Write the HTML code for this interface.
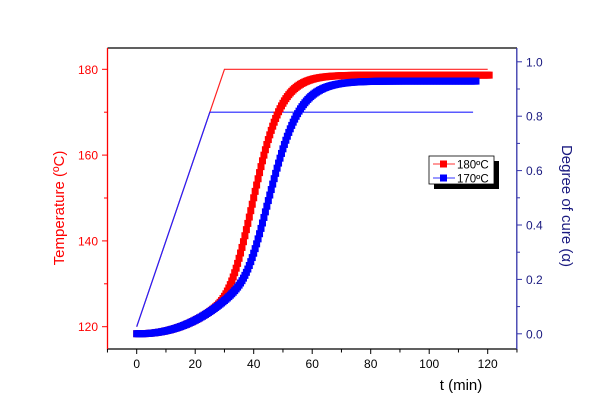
<!DOCTYPE html>
<html><head><meta charset="utf-8"><style>
html,body{margin:0;padding:0;background:#fff;}
svg{display:block;font-family:"Liberation Sans",Arial,sans-serif;}
</style></head><body>
<svg id="s" width="600" height="418" viewBox="0 0 600 418" xmlns="http://www.w3.org/2000/svg">
<rect width="600" height="418" fill="#fff"/>
<line x1="107.5" y1="48" x2="517" y2="48" stroke="#000" stroke-width="1.3"/>
<line x1="107.5" y1="349" x2="517" y2="349" stroke="#000" stroke-width="1.3"/>
<line x1="107.5" y1="48" x2="107.5" y2="349.5" stroke="#f00" stroke-width="1.3"/>
<line x1="516.8" y1="48" x2="516.8" y2="349.5" stroke="#3333aa" stroke-width="1.3"/>
<g id="ticks"></g>
<g id="data"></g>
<rect x="434" y="161" width="65" height="28" fill="#000"/>
<rect x="429" y="156" width="65" height="28" fill="#fff" stroke="#000" stroke-width="0.8"/>
<line x1="433" y1="164" x2="455" y2="164" stroke="#f33" stroke-width="1"/>
<rect x="440" y="160.5" width="7" height="7" fill="#f00"/>
<text x="457" y="168.5" font-size="11.5" fill="#000">180ºC</text>
<line x1="433" y1="178" x2="455" y2="178" stroke="#33f" stroke-width="1"/>
<rect x="440" y="174.5" width="7" height="7" fill="#00f"/>
<text x="457" y="182.5" font-size="11.5" fill="#000">170ºC</text>
<text x="461" y="390" font-size="15" fill="#000" text-anchor="middle">t (min)</text>
<text transform="translate(64,208) rotate(-90)" font-size="15" fill="#f00" text-anchor="middle">Temperature (ºC)</text>
<text transform="translate(562,206) rotate(90)" font-size="15" fill="#1a1a80" text-anchor="middle">Degree of cure (α)</text>
</svg>
<script>
var NS="http://www.w3.org/2000/svg";
function el(p,t,a,txt){var e=document.createElementNS(NS,t);for(var k in a)e.setAttribute(k,a[k]);if(txt!==undefined)e.textContent=txt;p.appendChild(e);return e;}
var T=document.getElementById("ticks"),D=document.getElementById("data");
function X(t){return 136.7+t*2.925;}
function YT(c){return 326.7-(c-120)*4.29;}
function YA(a){return 333.8-a*272;}
for(var t=-10;t<=130;t+=10){var maj=t%20==0;el(T,"line",{x1:X(t),y1:349,x2:X(t),y2:maj?354:352.5,stroke:"#000","stroke-width":1});
 if(maj&&t>=0&&t<=120)el(T,"text",{x:X(t),y:368,"font-size":12,"text-anchor":"middle",fill:"#000"},String(t));}
for(var c=120;c<=180;c+=10){var maj=c%20==0;el(T,"line",{x1:107.5,y1:YT(c),x2:maj?102:104,y2:YT(c),stroke:"#f00","stroke-width":1});
 if(maj)el(T,"text",{x:98,y:YT(c)+4.5,"font-size":12,"text-anchor":"end",fill:"#f00"},String(c));}
for(var i=0;i<=10;i++){var a=i/10,maj=i%2==0;el(T,"line",{x1:516.8,y1:YA(a),x2:maj?522:520,y2:YA(a),stroke:"#3333aa","stroke-width":1});
 if(maj)el(T,"text",{x:526,y:YA(a)+4.5,"font-size":12,fill:"#1a1a80"},a.toFixed(1));}
el(D,"polyline",{points:X(0)+","+YT(120)+" "+X(30)+","+YT(180)+" "+X(120)+","+YT(180),fill:"none",stroke:"#f22","stroke-width":1.2});
el(D,"polyline",{points:X(0)+","+YT(120)+" "+X(25)+","+YT(170)+" "+X(115)+","+YT(170),fill:"none",stroke:"#22f","stroke-width":1.2});
function f(t,t50,s,amax){var L=amax/(1+Math.exp(-(t-t50)/s));var e=Math.min(0.05*Math.pow(t/20,2.2),0.3);
 var p=6;return Math.pow(Math.pow(L,p)+Math.pow(e,p),1/p);}
function curve(t50,s,amax,tend,col){var g=el(D,"g",{fill:col});
 for(var t=0;t<=tend;t+=0.5){var a=Math.min(f(t,t50,s,amax),amax);el(g,"rect",{x:X(t)-3.5,y:YA(a)-3.5,width:7,height:7});}}
curve(39.5,5,0.951,120.5,"#f00");
curve(44.5,5.5,0.929,116,"#00f");
</script>
</body></html>
